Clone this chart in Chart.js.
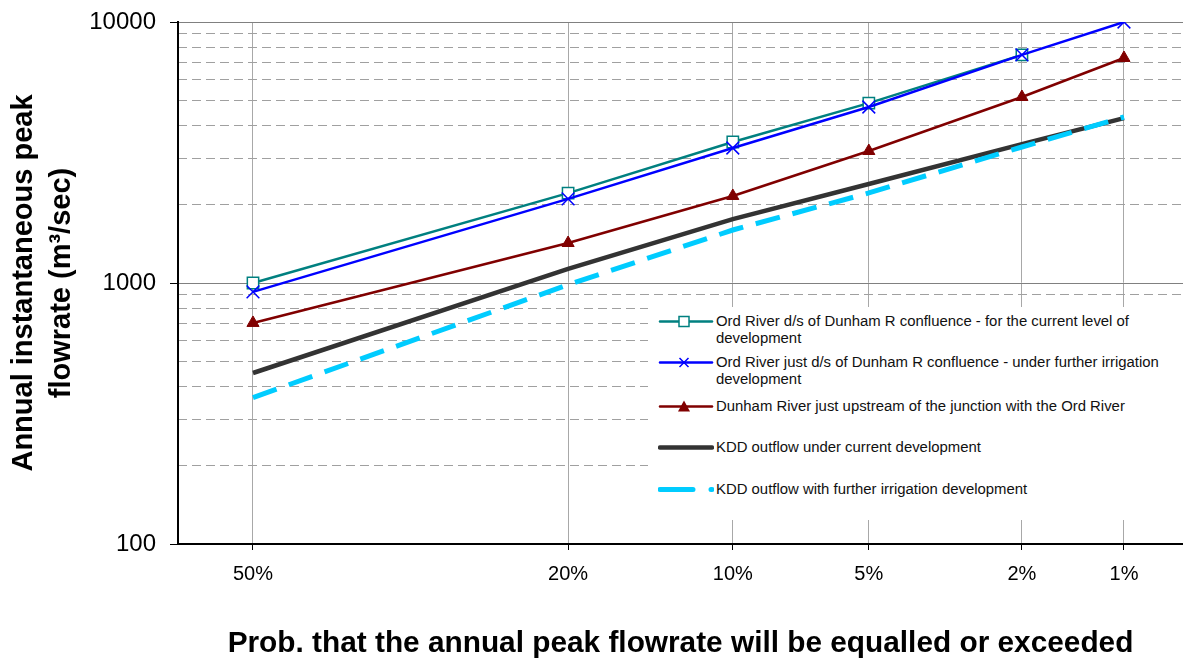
<!DOCTYPE html>
<html>
<head>
<meta charset="utf-8">
<script src="https://cdn.jsdelivr.net/npm/chart.js@4"></script>
<style>
  body { margin: 0; background: #fff; }
  #wrap { position: relative; width: 1183px; height: 659px; }
  #legend {
    position: absolute; left: 648px; top: 307px; width: 535px; height: 213px;
    background: #fff; font-family: "Liberation Sans", Arial, sans-serif; font-size: 14.9px;
    color: #111; line-height: 17px;
  }
  .item { position: absolute; left: 0; }
  .item svg { position: absolute; left: 10px; top: 0; }
  .item span { position: absolute; left: 68px; top: 0; white-space: nowrap; }
</style>
</head>
<body>
<div id="wrap">
  <canvas id="freqChart" width="1183" height="659"></canvas>
  <div id="legend"></div>
</div>
<script>
// exceedance probabilities (%) and their tick labels
const probs = [50, 20, 10, 5, 2, 1];
const probLabels = ['50%', '20%', '10%', '5%', '2%', '1%'];

// peak flowrate (m3/sec) at each probability
const ordCurrent = [1000, 2210, 3470, 4890, 7480, null];
const ordFurther = [925, 2100, 3290, 4725, 7480, 10000];
const dunham = [703, 1423, 2155, 3204, 5160, 7280];
const kddCurrent = [452, 1132, 1758, 2395, 3406, 4285];
const kddFurther = [364, 985, 1596, 2213, 3320, 4325];

const seriesNames = [
  'Ord River d/s of Dunham R confluence - for the current level of development',
  'Ord River just d/s of Dunham R confluence - under further irrigation development',
  'Dunham River just upstream of the junction with the Ord River',
  'KDD outflow under current development',
  'KDD outflow with further irrigation development'
];

const yMajor = [100, 1000, 10000];
const yMinor = [200, 300, 400, 500, 600, 700, 800, 900, 2000, 3000, 4000, 5000, 6000, 7000, 8000, 9000];

// normal probability paper: x is the standard normal deviate of (1 - p)
function normInv(p) {
  const a = [-3.969683028665376e+01, 2.209460984245205e+02, -2.759285104469687e+02, 1.383577518672690e+02, -3.066479806614716e+01, 2.506628277459239e+00];
  const b = [-5.447609879822406e+01, 1.615858368580409e+02, -1.556989798598866e+02, 6.680131188771972e+01, -1.328068155288572e+01];
  const c = [-7.784894002430293e-03, -3.223964580411365e-01, -2.400758277161838e+00, -2.549732539343734e+00, 4.374664141464968e+00, 2.938163982698783e+00];
  const d = [7.784695709041462e-03, 3.224671290700398e-01, 2.445134137142996e+00, 3.754408661907416e+00];
  const pl = 0.02425;
  let q, r;
  if (p < pl) {
    q = Math.sqrt(-2 * Math.log(p));
    return (((((c[0]*q+c[1])*q+c[2])*q+c[3])*q+c[4])*q+c[5]) / ((((d[0]*q+d[1])*q+d[2])*q+d[3])*q+1);
  }
  if (p > 1 - pl) {
    q = Math.sqrt(-2 * Math.log(1 - p));
    return -(((((c[0]*q+c[1])*q+c[2])*q+c[3])*q+c[4])*q+c[5]) / ((((d[0]*q+d[1])*q+d[2])*q+d[3])*q+1);
  }
  q = p - 0.5; r = q * q;
  return (((((a[0]*r+a[1])*r+a[2])*r+a[3])*r+a[4])*r+a[5])*q / (((((b[0]*r+b[1])*r+b[2])*r+b[3])*r+b[4])*r+1);
}
const zOf = p => normInv(1 - p / 100);

function toPoints(vals) {
  return vals.map((v, i) => ({ x: zOf(probs[i]), y: v }));
}

const FONT = '"Liberation Sans", Arial, sans-serif';

function noPad(s) {
  s.paddingTop = 0; s.paddingBottom = 0; s.paddingLeft = 0; s.paddingRight = 0;
}

const ctx = document.getElementById('freqChart').getContext('2d');
const chart = new Chart(ctx, {
  type: 'line',
  data: {
    datasets: [
      { label: seriesNames[0], data: toPoints(ordCurrent), borderColor: '#008080', borderWidth: 2.5,
        pointStyle: 'rect', pointRadius: 8, pointBackgroundColor: '#fff', pointBorderColor: '#008080',
        pointBorderWidth: 1.5, order: 5 },
      { label: seriesNames[1], data: toPoints(ordFurther), borderColor: '#0000ff', borderWidth: 2.5,
        pointStyle: 'crossRot', pointRadius: 9, pointBorderColor: '#0000ff', pointBorderWidth: 1.5, order: 4 },
      { label: seriesNames[2], data: toPoints(dunham), borderColor: '#800000', borderWidth: 2.5,
        pointStyle: 'triangle', pointRadius: 7, pointBackgroundColor: '#800000', pointBorderColor: '#800000',
        pointBorderWidth: 1, order: 3 },
      { label: seriesNames[3], data: toPoints(kddCurrent), borderColor: '#333333', borderWidth: 4.5,
        pointRadius: 0, order: 2 },
      { label: seriesNames[4], data: toPoints(kddFurther), borderColor: '#00ccff', borderWidth: 5,
        borderDash: [25, 13], pointRadius: 0, order: 1 }
    ]
  },
  options: {
    responsive: false,
    animation: false,
    devicePixelRatio: 1,
    layout: { autoPadding: false, padding: { top: 22, right: 0, left: 0, bottom: 0 } },
    elements: { line: { tension: 0, borderCapStyle: 'butt' } },
    plugins: { legend: { display: false }, tooltip: { enabled: false } },
    scales: {
      x: {
        type: 'linear',
        min: -0.2003,
        max: 2.484,
        afterBuildTicks: s => { s.ticks = probs.map(p => ({ value: zOf(p) })); },
        afterFit: s => { s.height = 115; noPad(s); },
        ticks: {
          callback: (v, i) => probLabels[i],
          color: '#000', padding: 12, maxRotation: 0, autoSkip: false,
          font: { family: FONT, size: 20 }
        },
        grid: { color: '#a8a8a8', lineWidth: 1, tickColor: '#000', tickLength: 6 },
        border: { color: '#000', width: 2 },
        title: {
          display: true,
          text: 'Prob. that the annual peak flowrate will be equalled or exceeded',
          color: '#000',
          font: { family: FONT, size: 29.8, weight: 'bold', lineHeight: 1 },
          padding: { top: 0, bottom: 0 }
        }
      },
      y: {
        type: 'logarithmic',
        position: 'left',
        min: 100,
        max: 10000,
        afterBuildTicks: s => { s.ticks = yMajor.map(v => ({ value: v })); },
        afterFit: s => { s.width = 178; noPad(s); },
        ticks: {
          callback: v => String(v),
          color: '#000', padding: 14,
          font: { family: FONT, size: 24 }
        },
        grid: { color: '#808080', lineWidth: 1, tickColor: '#000', tickLength: 8 },
        border: { color: '#000', width: 2 },
        title: {
          display: true,
          text: ['Annual instantaneous peak', 'flowrate (m\u00b3/sec)'],
          color: '#000',
          font: { family: FONT, size: 29, weight: 'bold', lineHeight: 1.32 },
          padding: { top: 5, bottom: 0 }
        }
      },
      yMinor: {
        type: 'logarithmic',
        position: 'left',
        min: 100,
        max: 10000,
        afterBuildTicks: s => { s.ticks = yMinor.map(v => ({ value: v })); },
        afterFit: s => { s.width = 0; noPad(s); },
        ticks: { display: false },
        grid: { color: '#a0a0a0', lineWidth: 1, drawTicks: false },
        border: { display: false, dash: [9, 5] }
      }
    }
  }
});

// legend drawn as html, inside the plot like the original
const legendRows = [
  { top: 6, color: '#008080', w: 2.5, marker: 'square', lines: 2 },
  { top: 47, color: '#0000ff', w: 2.5, marker: 'cross', lines: 2 },
  { top: 91, color: '#800000', w: 2.5, marker: 'triangle', lines: 1 },
  { top: 132, color: '#333333', w: 4.5, marker: null, lines: 1 },
  { top: 174, color: '#00ccff', w: 5, marker: null, lines: 1, dash: '33 18' }
];
const legendEl = document.getElementById('legend');
legendRows.forEach((r, i) => {
  const item = document.createElement('div');
  item.className = 'item';
  item.style.top = r.top + 'px';
  let mk = '';
  if (r.marker === 'square') mk = `<rect x="21" y="3.5" width="10" height="10" fill="#fff" stroke="${r.color}" stroke-width="1.5"/>`;
  if (r.marker === 'cross') mk = `<path d="M21.5 4 L30.5 13 M30.5 4 L21.5 13" stroke="${r.color}" stroke-width="1.5"/>`;
  if (r.marker === 'triangle') mk = `<path d="M26 2.5 L32 13.5 L20 13.5 Z" fill="${r.color}"/>`;
  const dash = r.dash ? ` stroke-dasharray="${r.dash}"` : '';
  item.innerHTML = `<svg width="56" height="17" viewBox="0 0 56 17"><line x1="2" y1="8.5" x2="54" y2="8.5" stroke="${r.color}" stroke-width="${r.w}" stroke-linecap="round"${dash}/>${mk}</svg>` +
    `<span>${seriesNames[i].replace(/ (development)$/, r.lines === 2 ? '<br>$1' : ' $1')}</span>`;
  legendEl.appendChild(item);
});
</script>
</body>
</html>
